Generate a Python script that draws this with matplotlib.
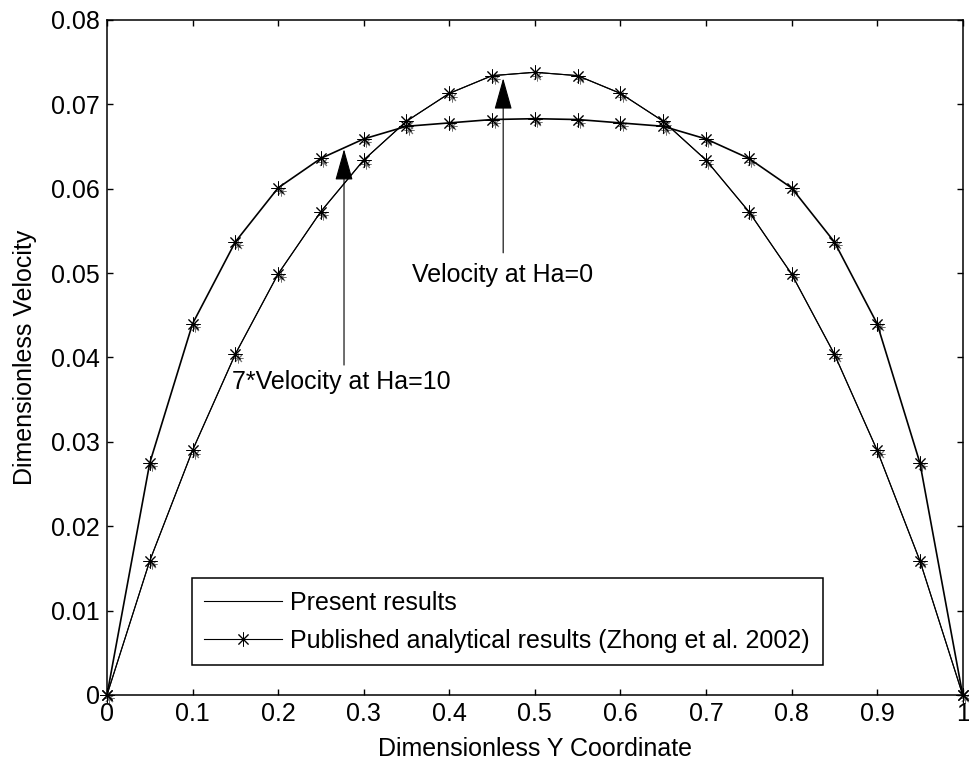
import matplotlib
matplotlib.use('Agg')
import matplotlib.pyplot as plt
import matplotlib.transforms as mtransforms
import numpy as np

plt.rcParams['font.family'] = ['Liberation Sans', 'DejaVu Sans']

# dimensionless y coordinate
y_coord = [0.0, 0.05, 0.1, 0.15, 0.2, 0.25, 0.3, 0.35, 0.4, 0.45, 0.5,
           0.55, 0.6, 0.65, 0.7, 0.75, 0.8, 0.85, 0.9, 0.95, 1.0]

# velocity at Ha=0 (present results / published)
vel_ha0 = [0.0, 0.0159, 0.0290, 0.0404, 0.0499, 0.0573, 0.0634, 0.0680, 0.0713, 0.0734, 0.0738,
           0.0734, 0.0713, 0.0680, 0.0634, 0.0573, 0.0499, 0.0404, 0.0290, 0.0159, 0.0]

# 7 * velocity at Ha=10
vel_ha10 = [0.0, 0.0275, 0.0440, 0.0537, 0.0601, 0.0636, 0.0659, 0.0674, 0.0678, 0.0682, 0.0683,
            0.0682, 0.0678, 0.0674, 0.0659, 0.0636, 0.0601, 0.0537, 0.0440, 0.0275, 0.0]

x_ticks = [0, 0.1, 0.2, 0.3, 0.4, 0.5, 0.6, 0.7, 0.8, 0.9, 1.0]
x_tick_labels = ['0', '0.1', '0.2', '0.3', '0.4', '0.5', '0.6', '0.7', '0.8', '0.9', '1']
y_ticks = [0, 0.01, 0.02, 0.03, 0.04, 0.05, 0.06, 0.07, 0.08]
y_tick_labels = ['0', '0.01', '0.02', '0.03', '0.04', '0.05', '0.06', '0.07', '0.08']

fs = 18
star = (8, 2, 0)

fig = plt.figure(figsize=(9.69, 7.74), dpi=100)
ax = fig.add_axes([0.1104, 0.1021, 0.8831, 0.8721])

# present results (solid lines)
h_present, = ax.plot(y_coord, vel_ha0, '-', color='black', lw=0.8)
ax.plot(y_coord, vel_ha10, '-', color='black', lw=1.2)

# faint shadow of the star markers (as in the scanned original)
shadow = ax.transData + mtransforms.ScaledTranslation(2.5 / 100, -3.5 / 100, fig.dpi_scale_trans)
for v in (vel_ha0, vel_ha10):
    ax.plot(y_coord, v, linestyle='none', color='0.45', marker=star, markersize=7,
            mew=0.7, transform=shadow, clip_on=False, zorder=1.5)

# published analytical results (markers)
h_pub, = ax.plot(y_coord, vel_ha0, '-', color='black', lw=0.8,
                 marker=star, markersize=10, mew=0.7, clip_on=False)
ax.plot(y_coord, vel_ha10, linestyle='none', color='black',
        marker=star, markersize=10, mew=0.7, clip_on=False)

# annotations
arrow_kw = dict(arrowstyle='-|>,head_length=1.0,head_width=0.28',
                color='black', lw=0.8, shrinkA=0, shrinkB=0, mutation_scale=20)
ax.annotate('', xy=(0.463, 0.0731), xytext=(0.463, 0.0524), arrowprops=arrow_kw)
ax.annotate('', xy=(0.277, 0.0647), xytext=(0.277, 0.0391), arrowprops=arrow_kw)
ax.text(0.356, 0.0498, 'Velocity at Ha=0', fontsize=fs, ha='left', va='center')
ax.text(0.1456, 0.0371, '7*Velocity at Ha=10', fontsize=fs, ha='left', va='center')

ax.set_xlim(0, 1)
ax.set_ylim(0, 0.08)
ax.set_xticks(x_ticks)
ax.set_xticklabels(x_tick_labels)
ax.set_yticks(y_ticks)
ax.set_yticklabels(y_tick_labels)
ax.tick_params(direction='in', length=4, width=1, top=True, right=True,
               labelsize=fs, pad=5)
for sp in ax.spines.values():
    sp.set_linewidth(1.1)

ax.set_xlabel('Dimensionless Y Coordinate', fontsize=fs, labelpad=8)
ax.set_ylabel('Dimensionless Velocity', fontsize=fs, labelpad=10)

leg = ax.legend([h_present, h_pub],
                ['Present results', 'Published analytical results (Zhong et al. 2002)'],
                loc='lower left', bbox_to_anchor=(0.099, 0.0444), borderaxespad=0,
                fontsize=fs, fancybox=False, framealpha=1, edgecolor='black',
                handlelength=3.1, handletextpad=0.35, borderpad=0.5, labelspacing=0.55)
leg.get_frame().set_linewidth(1.1)

fig.savefig('out.png', dpi=100)
